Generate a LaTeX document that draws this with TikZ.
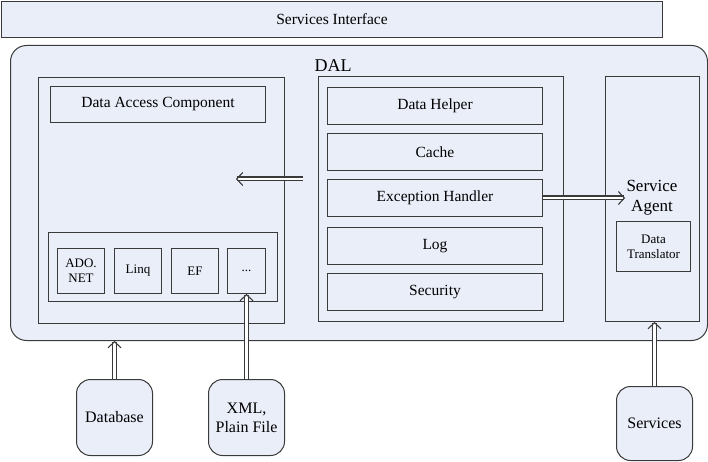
\documentclass[tikz,border=0pt]{standalone}
\usepackage{fontspec}
\setmainfont{Liberation Serif}
\usetikzlibrary{arrows.meta}
\definecolor{boxfill}{HTML}{EAEEF9}
\definecolor{boxline}{HTML}{3A3A3A}

\begin{document}
\begin{tikzpicture}[x=1pt,y=-1pt,thick,
    box/.style={draw=boxline,fill=boxfill,line width=1pt,anchor=north west,inner sep=0pt,align=center,font=\fontsize{15.5}{17}\selectfont},
    small box/.style={box,font=\fontsize{13}{15}\selectfont},
    end box/.style={box,rounded corners=14pt,font=\fontsize{16}{19}\selectfont},
    pipe/.style={draw=boxline,line width=1.1pt,double=white,double distance=2.8pt,-{Straight Barb[length=6pt,width=13pt]}}]
  \useasboundingbox (0,0) rectangle (708,462);
  % top
  \node[box,minimum width=661pt,minimum height=36pt] (iface) at (1,1) {Services Interface};
  % dal
  \node[box,rounded corners=16pt,minimum width=697pt,minimum height=295pt] (dal) at (10,45) {};
  \node[font=\fontsize{18}{18}\selectfont] (dallabel) at (333,66) {DAL};
  % left part
  \node[box,minimum width=246pt,minimum height=246pt] (access) at (38,77) {};
  \node[box,minimum width=215pt,minimum height=36pt] (dac) at (50,86) {Data Access Component};
  \node[box,minimum width=229pt,minimum height=69pt] (providers) at (48,232) {};
  \node[small box,minimum width=47pt,minimum height=45pt] (ado) at (57,248) {ADO.\\NET};
  \node[small box,minimum width=47pt,minimum height=45pt] (linq) at (114,248) {Linq};
  \node[small box,minimum width=47pt,minimum height=45pt] (ef) at (171,248) {EF};
  \node[small box,minimum width=38pt,minimum height=45pt] (more) at (227,248) {...};
  % middle part
  \node[box,minimum width=245pt,minimum height=245pt] (common) at (318,76) {};
  \node[box,minimum width=215pt,minimum height=37pt] (helper) at (327,87) {Data Helper};
  \node[box,minimum width=215pt,minimum height=37pt] (cache) at (327,133) {Cache};
  \node[box,minimum width=215pt,minimum height=37pt] (except) at (327,179) {Exception Handler};
  \node[box,minimum width=215pt,minimum height=37pt] (log) at (327,227) {Log};
  \node[box,minimum width=215pt,minimum height=37pt] (security) at (327,273) {Security};
  % right part
  \node[box,minimum width=94pt,minimum height=245pt] (agent) at (605,76) {};
  \node[font=\fontsize{17}{20}\selectfont,align=center,inner sep=1pt] (agentlabel) at (652,198) {Service\\Agent};
  \node[small box,minimum width=74pt,minimum height=50pt] (translator) at (616,221) {Data\\Translator};
  % sources
  \node[end box,minimum width=76pt,minimum height=76pt] (db) at (76,379) {Database};
  \node[end box,minimum width=76pt,minimum height=76pt] (xml) at (208,379) {XML,\\Plain File};
  \node[end box,minimum width=76pt,minimum height=74pt] (svc) at (616,386) {Services};
  % connectors
  \coordinate (from) at (303,179);
  \coordinate (to) at (236,179);
  \draw[pipe] (from) -- (to);
  \draw[pipe] (except.east) -- (agentlabel.west |- except.east);
  \draw[pipe] (db.north) -- (db.north |- dal.south);
  \draw[pipe] (xml.north -| more.south) -- (more.south);
  \draw[pipe] (svc.north) -- (svc.north |- agent.south);
\end{tikzpicture}
\end{document}
